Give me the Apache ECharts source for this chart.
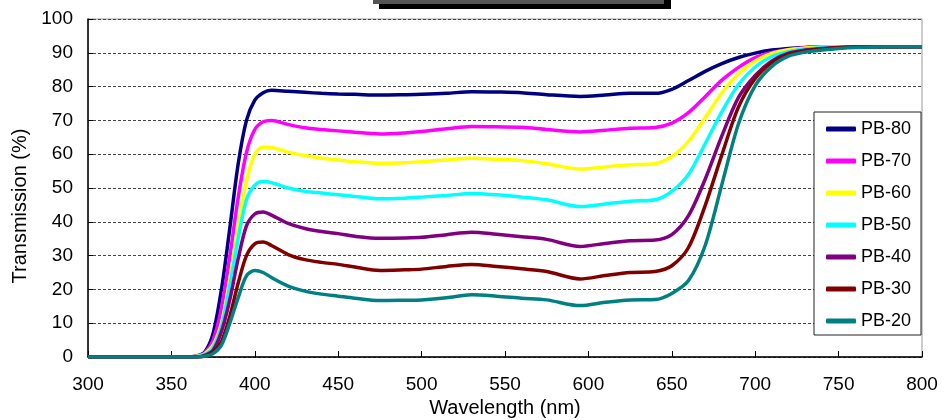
<!DOCTYPE html>
<html>
<head>
<meta charset="utf-8">
<script src="https://cdn.jsdelivr.net/npm/echarts@6/dist/echarts.min.js"></script>
<style>
html,body{margin:0;padding:0;background:#fff;}
#chart{width:944px;height:420px;}
</style>
</head>
<body>
<div id="chart"></div>
<script>
var wavelengths = [300, 360, 365, 370, 375, 380, 385, 390, 395, 400, 405, 410, 420, 430, 440, 450, 460, 475, 490, 500, 515, 530, 545, 560, 575, 595, 610, 625, 640, 650, 660, 670, 680, 690, 700, 710, 720, 730, 740, 750, 760, 780, 800];
var seriesNames = ['PB-80', 'PB-70', 'PB-60', 'PB-50', 'PB-40', 'PB-30', 'PB-20'];
var pb80 = [0, 0, 0.3, 1.5, 7, 20, 38, 57, 70, 76, 78.2, 78.9, 78.6, 78.3, 78.0, 77.8, 77.7, 77.5, 77.6, 77.7, 78.0, 78.5, 78.4, 78.2, 77.6, 77.1, 77.5, 78.0, 78.0, 79.2, 81.8, 84.5, 86.8, 88.6, 89.9, 90.8, 91.3, 91.6, 91.8, 91.8, 91.8, 91.8, 91.8];
var pb70 = [0, 0, 0.3, 1.2, 5, 14.5, 29.7, 47, 60.5, 67.3, 69.6, 70.0, 68.8, 67.8, 67.3, 66.9, 66.5, 66.0, 66.3, 66.7, 67.5, 68.2, 68.1, 68.0, 67.3, 66.6, 67.1, 67.7, 67.9, 69.2, 72.3, 77.0, 81.9, 85.7, 88.6, 90.1, 91.0, 91.5, 91.7, 91.8, 91.8, 91.8, 91.8];
var pb60 = [0, 0, 0.2, 1, 3.5, 10, 22.8, 38.5, 52, 60, 62.1, 62.0, 60.6, 59.6, 58.8, 58.3, 57.8, 57.3, 57.5, 57.8, 58.3, 58.8, 58.5, 58.1, 57.2, 55.6, 56.2, 56.9, 57.2, 59.3, 63.8, 70.8, 78.1, 83.8, 87.6, 89.8, 90.9, 91.4, 91.7, 91.8, 91.8, 91.8, 91.8];
var pb50 = [0, 0, 0.1, 0.8, 2.8, 9, 21, 35, 46.5, 50.8, 51.9, 51.6, 50.0, 49.0, 48.5, 48.0, 47.5, 46.8, 47.0, 47.3, 47.8, 48.4, 48.0, 47.3, 46.5, 44.5, 45.3, 46.1, 46.5, 49.0, 54.0, 63.1, 72.5, 80.6, 85.8, 88.9, 90.3, 91.1, 91.5, 91.7, 91.8, 91.8, 91.8];
var pb40 = [0, 0, 0, 0.5, 2, 7.5, 16.9, 29, 38.8, 42.3, 42.9, 42.0, 39.5, 38.0, 37.1, 36.5, 35.7, 35.1, 35.2, 35.4, 36.2, 36.9, 36.3, 35.6, 34.8, 32.7, 33.6, 34.4, 34.6, 36.2, 41.8, 52.6, 65.4, 76.8, 83.3, 87.6, 89.9, 90.8, 91.3, 91.6, 91.7, 91.8, 91.8];
var pb30 = [0, 0, 0, 0.3, 1.5, 4.5, 12, 21.8, 30, 33.5, 34.0, 33.0, 30.3, 28.8, 28.0, 27.4, 26.6, 25.6, 25.8, 26.0, 26.8, 27.4, 26.8, 26.1, 25.3, 23.1, 24.1, 25.0, 25.3, 27.0, 32.4, 44.8, 59.8, 74.0, 82.4, 87.1, 89.5, 90.5, 91.1, 91.5, 91.7, 91.8, 91.8];
var pb20 = [0, 0, 0, 0.2, 1, 3.5, 10, 17.5, 24, 25.6, 25.0, 23.5, 21.0, 19.5, 18.6, 18.0, 17.4, 16.7, 16.8, 16.9, 17.5, 18.4, 18.0, 17.4, 16.9, 15.2, 16.2, 16.9, 17.0, 18.8, 22.6, 33.0, 51.0, 69.0, 80.3, 86.0, 89.0, 90.2, 90.8, 91.3, 91.6, 91.8, 91.8];
var seriesColors = ['#000080', '#FF00FF', '#FFFF00', '#00FFFF', '#800080', '#800000', '#008080'];
var xTicks = [300, 350, 400, 450, 500, 550, 600, 650, 700, 750, 800];
var yTicks = [0, 10, 20, 30, 40, 50, 60, 70, 80, 90, 100];

var allValues = [pb80, pb70, pb60, pb50, pb40, pb30, pb20];
var FONT = '"Liberation Sans", Arial, sans-serif';

var chart = echarts.init(document.getElementById('chart'), null, {renderer: 'canvas'});

var series = allValues.map(function (vals, i) {
  return {
    name: seriesNames[i],
    type: 'line',
    smooth: 0.3,
    showSymbol: false,
    symbol: 'none',
    data: wavelengths.map(function (w, j) { return [w, vals[j]]; }),
    lineStyle: {color: seriesColors[i], width: 3.5},
    itemStyle: {color: seriesColors[i]},
    z: 2 + i
  };
});

chart.setOption({
  animation: false,
  backgroundColor: '#fff',
  textStyle: {fontFamily: FONT},
  grid: {left: 88, right: 22, top: 19, bottom: 63, show: true, borderColor: '#9a9a9a', borderWidth: 1, containLabel: false, outerBoundsMode: 'none'},
  xAxis: {
    type: 'value',
    min: xTicks[0],
    max: xTicks[xTicks.length - 1],
    interval: 50,
    name: 'Wavelength (nm)',
    nameLocation: 'middle',
    nameGap: 36,
    nameTextStyle: {fontFamily: FONT, fontSize: 20, color: '#000'},
    axisLine: {show: true, lineStyle: {color: '#000', width: 1.5}},
    axisTick: {show: true, inside: true, length: 6, lineStyle: {color: '#000', width: 1}},
    axisLabel: {fontFamily: FONT, fontSize: 19, color: '#000', margin: 18},
    splitLine: {show: false}
  },
  yAxis: {
    type: 'value',
    min: yTicks[0],
    max: yTicks[yTicks.length - 1],
    interval: 10,
    name: 'Transmission (%)',
    nameLocation: 'middle',
    nameGap: 56,
    nameRotate: 90,
    nameTextStyle: {fontFamily: FONT, fontSize: 20, color: '#000', padding: [0, 36, 0, 0]},
    axisLine: {show: true, lineStyle: {color: '#000', width: 1.5}},
    axisTick: {show: true, inside: true, length: 5, lineStyle: {color: '#000', width: 1}},
    axisLabel: {fontFamily: FONT, fontSize: 19, color: '#000', margin: 15},
    splitLine: {show: true, lineStyle: {color: '#444', width: 1, type: [3, 2]}}
  },
  legend: {
    data: seriesNames,
    orient: 'vertical',
    left: 814,
    top: 112,
    backgroundColor: '#fff',
    borderColor: '#222',
    borderWidth: 1,
    borderRadius: 0,
    padding: [7, 10, 4, 12],
    itemWidth: 30,
    itemHeight: 5,
    itemGap: 12,
    icon: 'roundRect',
    textStyle: {fontFamily: FONT, fontSize: 18, color: '#000', lineHeight: 20},
    z: 20
  },
  graphic: [
    {type: 'rect', left: 379, top: 0, shape: {width: 292, height: 9}, style: {fill: '#000'}, z: 30},
    {type: 'rect', left: 373, top: 0, shape: {width: 291, height: 4}, style: {fill: '#555'}, z: 31}
  ],
  series: series
});
</script>
</body>
</html>
